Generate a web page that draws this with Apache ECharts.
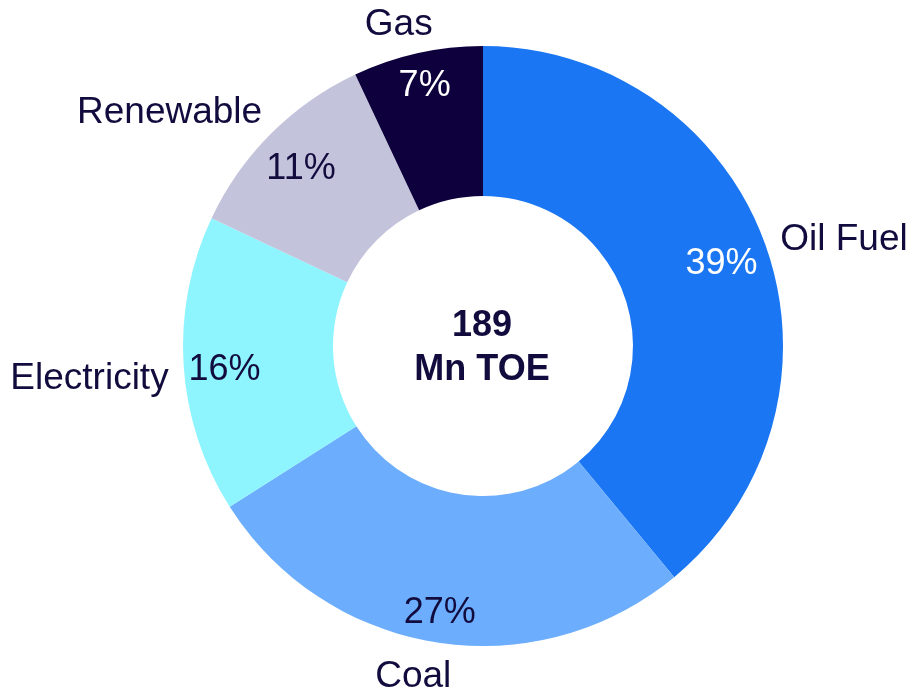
<!DOCTYPE html>
<html><head><meta charset="utf-8">
<script src="https://cdn.jsdelivr.net/npm/echarts@6/dist/echarts.min.js"></script>
<style>html,body{margin:0;padding:0;background:#fff}#c{width:910px;height:687px}</style>
</head><body><div id="c"></div>
<script>
const categories = ['Oil Fuel', 'Coal', 'Electricity', 'Renewable', 'Gas'];
const shares = [39, 27, 16, 11, 7];
const centerText = ['189', 'Mn TOE'];

// styling
const colors = ['#1a76f2', '#6caefd', '#8ef4fe', '#c4c3dc', '#0d003d'];
const pctColors = ['#ffffff', '#120c3e', '#120c3e', '#120c3e', '#ffffff'];
const nameNudge = [[-7, 2], [23, 17], [8, 13], [9, -8], [24, -11]];
const pctNudge = [[-9, 7], [-2, 7], [4, 8], [4, 9], [-1, -3]];

const chart = echarts.init(document.getElementById('c'));
const txt = '#120c3e';
const font = 'Liberation Sans, Arial, sans-serif';
chart.setOption({
  animation: false,
  series: [
    {
      type: 'pie', center: [483, 346], radius: [150, 300], startAngle: 90, clockwise: true, silent: true,
      label: { show: true, position: 'outside', color: txt, fontSize: 37, fontFamily: font, formatter: '{b}', overflow: 'none', edgeDistance: 0 },
      labelLine: { show: false, length: 18, length2: 0 },
      labelLayout: p => ({ dx: nameNudge[p.dataIndex][0], dy: nameNudge[p.dataIndex][1] }),
      data: categories.map((c, i) => ({ name: c, value: shares[i], itemStyle: { color: colors[i] } }))
    },
    {
      type: 'pie', center: [483, 346], radius: [220, 300], startAngle: 90, clockwise: true, silent: true,
      itemStyle: { color: 'rgba(0,0,0,0)' },
      label: { show: true, position: 'inside', fontSize: 36, fontFamily: font, formatter: '{c}%' },
      labelLine: { show: false },
      labelLayout: p => ({ dx: pctNudge[p.dataIndex][0], dy: pctNudge[p.dataIndex][1] }),
      data: categories.map((c, i) => ({ name: c, value: shares[i], label: { color: pctColors[i] } }))
    },
    {
      type: 'pie', center: [482, 348], radius: [0, 140], silent: true,
      itemStyle: { color: 'rgba(0,0,0,0)' },
      label: { show: true, position: 'center', color: txt, fontSize: 36, fontWeight: 'bold', fontFamily: font, lineHeight: 44, formatter: centerText.join('\n') },
      labelLine: { show: false },
      data: [{ name: 'total', value: 1 }]
    }
  ]
});
</script></body></html>
